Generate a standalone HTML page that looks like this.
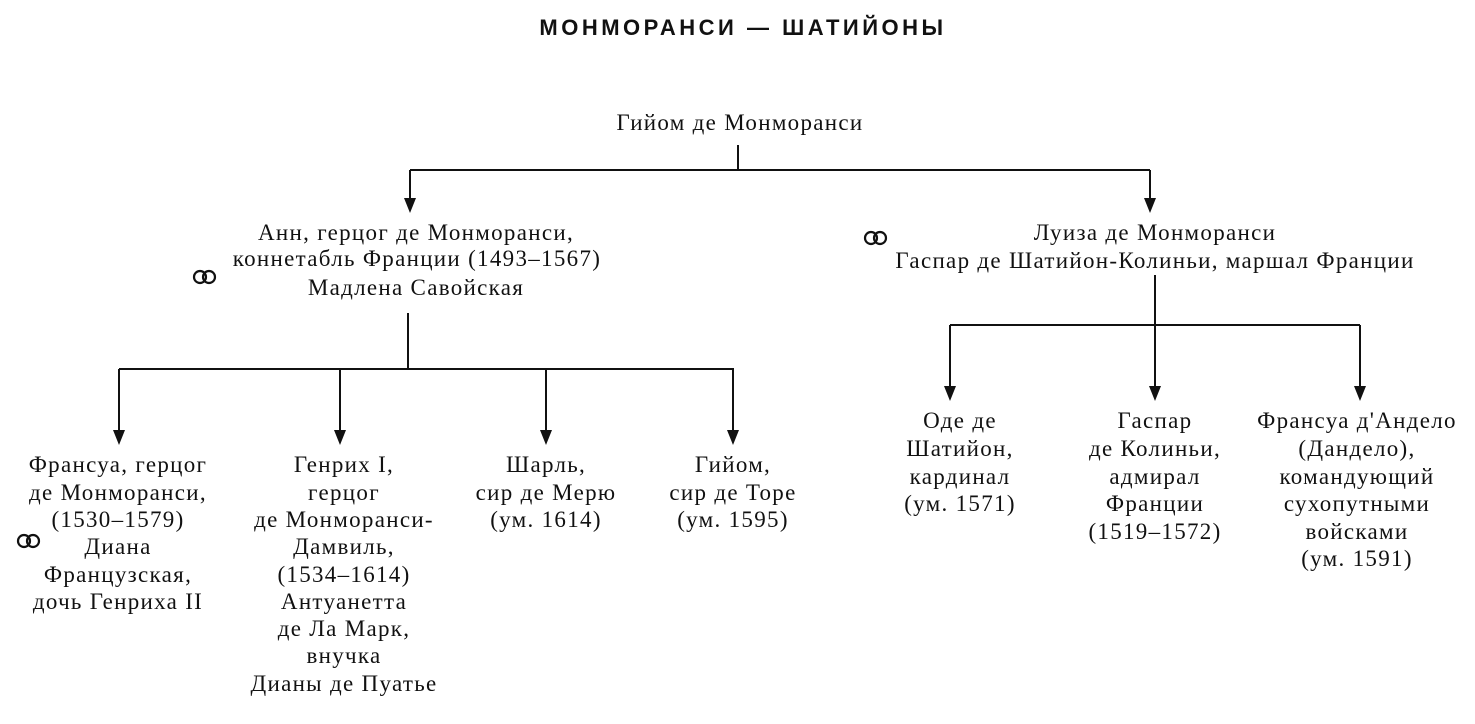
<!DOCTYPE html>
<html><head><meta charset="utf-8"><style>
html,body{margin:0;padding:0;background:#fff;}
svg text{font-family:"Liberation Serif","DejaVu Serif",serif;font-size:23px;letter-spacing:1.3px;fill:#111;text-anchor:middle;}
</style></head><body>
<svg width="1475" height="719" viewBox="0 0 1475 719" xmlns="http://www.w3.org/2000/svg">
<text x="743" y="35" style="font-family:'Liberation Sans',sans-serif;font-weight:bold;font-size:22px;letter-spacing:3.5px">МОНМОРАНСИ — ШАТИЙОНЫ</text>
<g stroke="#111" stroke-width="2" fill="none">
<path d="M738 145V170M410 170H1150M410 170V198M1150 170V198"/>
<path d="M408 313V369M119 369H734M119 369V430M340 369V430M546 369V430M733 369V430"/>
<path d="M1155 275V325M950 325H1360M950 325V386M1155 325V386M1360 325V386"/>
</g>
<g fill="#111">
<path d="M404 198h12l-6 15z"/><path d="M1144 198h12l-6 15z"/>
<path d="M113 430h12l-6 15z"/><path d="M334 430h12l-6 15z"/><path d="M540 430h12l-6 15z"/><path d="M727 430h12l-6 15z"/>
<path d="M944 386h12l-6 15z"/><path d="M1149 386h12l-6 15z"/><path d="M1354 386h12l-6 15z"/>
</g>
<g fill="none" stroke="#111" stroke-width="2.2">
<circle cx="200" cy="277" r="6"/><circle cx="209" cy="277" r="6"/>
<circle cx="871" cy="238" r="6"/><circle cx="880" cy="238" r="6"/>
<circle cx="24" cy="541" r="6"/><circle cx="33" cy="541" r="6"/>
</g>
<text x="740" y="130">Гийом де Монморанси</text>
<text x="416" y="240">Анн, герцог де Монморанси,</text>
<text x="417" y="266">коннетабль Франции (1493–1567)</text>
<text x="416" y="295">Мадлена Савойская</text>
<text x="1155" y="240">Луиза де Монморанси</text>
<text x="1155" y="268">Гаспар де Шатийон-Колиньи, маршал Франции</text>
<g>
<text x="118" y="472">Франсуа, герцог</text><text x="118" y="500">де Монморанси,</text><text x="118" y="527">(1530–1579)</text><text x="118" y="554">Диана</text><text x="118" y="582">Французская,</text><text x="118" y="609">дочь Генриха II</text>
<text x="344" y="472">Генрих I,</text><text x="344" y="500">герцог</text><text x="344" y="527">де Монморанси-</text><text x="344" y="554">Дамвиль,</text><text x="344" y="582">(1534–1614)</text><text x="344" y="609">Антуанетта</text><text x="344" y="636">де Ла Марк,</text><text x="344" y="663">внучка</text><text x="344" y="691">Дианы де Пуатье</text>
<text x="546" y="472">Шарль,</text><text x="546" y="500">сир де Мерю</text><text x="546" y="527">(ум. 1614)</text>
<text x="733" y="472">Гийом,</text><text x="733" y="500">сир де Торе</text><text x="733" y="527">(ум. 1595)</text>
<text x="960" y="428">Оде де</text><text x="960" y="456">Шатийон,</text><text x="960" y="484">кардинал</text><text x="960" y="511">(ум. 1571)</text>
<text x="1155" y="428">Гаспар</text><text x="1155" y="456">де Колиньи,</text><text x="1155" y="484">адмирал</text><text x="1155" y="511">Франции</text><text x="1155" y="539">(1519–1572)</text>
<text x="1357" y="428">Франсуа д'Андело</text><text x="1357" y="456">(Дандело),</text><text x="1357" y="484">командующий</text><text x="1357" y="511">сухопутными</text><text x="1357" y="539">войсками</text><text x="1357" y="566">(ум. 1591)</text>
</g>
</svg>
</body></html>
